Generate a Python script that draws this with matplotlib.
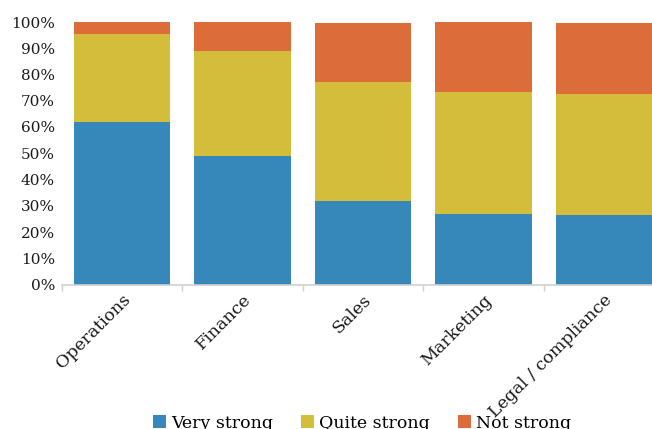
import matplotlib
matplotlib.use("Agg")
import matplotlib.pyplot as plt
from matplotlib.ticker import PercentFormatter
import numpy as np

categories = ["Operations", "Finance", "Sales", "Marketing", "Legal / compliance"]
very_strong = [62, 49, 32, 27, 26.5]
quite_strong = [33.5, 40, 45, 46.5, 46]
not_strong = [4.5, 11, 22.5, 26.5, 27]
series_names = ["Very strong", "Quite strong", "Not strong"]
colors = ["#3688bb", "#d5bd3c", "#dc6d3a"]

plt.rcParams["font.family"] = ["DejaVu Serif"]

W, H = 652, 429
fig = plt.figure(figsize=(W / 100, H / 100), dpi=100)
ax = fig.add_axes([62 / W, (H - 284.5) / H, (664 - 62) / W, 262.5 / H])

x = np.arange(len(categories))
bottom = np.zeros(len(categories))
for vals, name, col in zip([very_strong, quite_strong, not_strong], series_names, colors):
    ax.bar(x, vals, width=0.8, bottom=bottom, color=col, label=name, zorder=2)
    bottom += np.array(vals)

ax.set_xlim(-0.5, len(categories) - 0.5)
ax.set_ylim(0, 100)
ax.set_yticks(np.arange(0, 101, 10))
ax.yaxis.set_major_formatter(PercentFormatter(decimals=0))
ax.tick_params(axis="y", length=0, pad=5, labelsize=11, colors="#1a1a1a")

ax.set_xticks(x)
ax.set_xticklabels(categories, rotation=45, ha="right", rotation_mode="anchor",
                   fontsize=12.5, color="#1a1a1a")
ax.tick_params(axis="x", which="major", length=0, pad=5)
ax.set_xticks(np.arange(-0.5, len(categories), 1.0), minor=True)
ax.tick_params(axis="x", which="minor", length=4, color="#d0d0d0", width=1)

for s in ["top", "right", "left"]:
    ax.spines[s].set_visible(False)
ax.spines["bottom"].set_color("#d0d0d0")
ax.spines["bottom"].set_linewidth(1.2)

handles, labels = ax.get_legend_handles_labels()
fig.legend(handles, labels, loc="center", bbox_to_anchor=(362 / W, (H - 423) / H),
           ncol=3, frameon=False, fontsize=12.5, handlelength=0.75, handleheight=0.75,
           handletextpad=0.3, columnspacing=1.6)

fig.savefig("out.png", dpi=100)
